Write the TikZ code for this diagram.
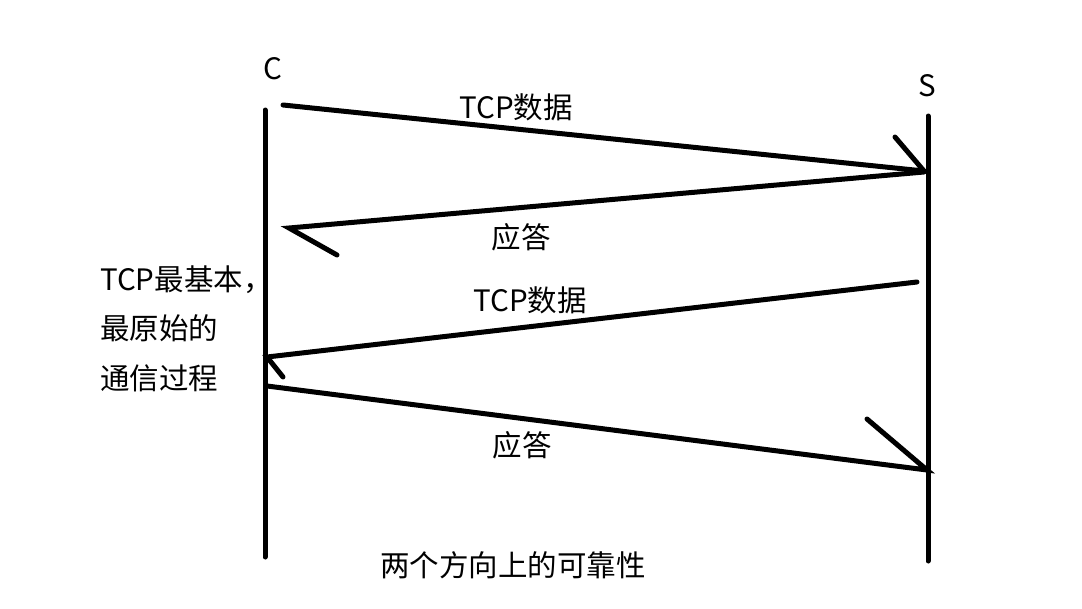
\documentclass[tikz,border=0pt]{standalone}
\usepackage{fontspec}
\setmainfont{Noto Sans CJK SC}
\begin{document}
\begin{tikzpicture}[x=1pt,y=-1pt,
  stroke/.style={line width=5pt,line cap=round},
  lbl/.style={font=\fontsize{29.5}{35}\selectfont,inner sep=0pt}]
\useasboundingbox (0,0) rectangle (1082,608);
% lifelines
\coordinate (ctop) at (265,110);
\coordinate (cbot) at (265,557);
\coordinate (stop) at (928,116);
\coordinate (sbot) at (928,561);
\draw[stroke] (ctop) -- (cbot);
\draw[stroke] (stop) -- (sbot);
\node[lbl] (C) at (273,69) {C};
\node[lbl] (S) at (927,86) {S};
% message 1
\coordinate (m1a) at (283,105);
\coordinate (m1b) at (924,171);
\coordinate (m1h) at (895,137);
\draw[stroke] (m1a) -- (m1b) -- (m1h);
\node[lbl] (l1) at (516,107) {TCP数据};
% message 2
\coordinate (m2a) at (924,172);
\coordinate (m2b) at (289,228);
\coordinate (m2h) at (337,255);
\draw[stroke] (m2a) -- (m2b) -- (m2h);
\node[lbl] (l2) at (521,237) {应答};
% message 3
\coordinate (m3a) at (917,282);
\coordinate (m3b) at (267,357);
\coordinate (m3h) at (283,377);
\draw[stroke] (m3a) -- (m3b) -- (m3h);
\node[lbl] (l3) at (530,300) {TCP数据};
% message 4
\coordinate (m4a) at (267,386);
\coordinate (m4b) at (927,470);
\coordinate (m4h) at (867,419);
\draw[stroke] (m4a) -- (m4b) -- (m4h);
\node[lbl] (l4) at (522,445) {应答};
% side note
\node[lbl,anchor=west] (n1) at (100,280) {TCP最基本，};
\node[lbl,anchor=west] (n2) at (100,328) {最原始的};
\node[lbl,anchor=west] (n3) at (100,378) {通信过程};
\node[lbl] (bottom) at (513,565) {两个方向上的可靠性};
\end{tikzpicture}
\end{document}
